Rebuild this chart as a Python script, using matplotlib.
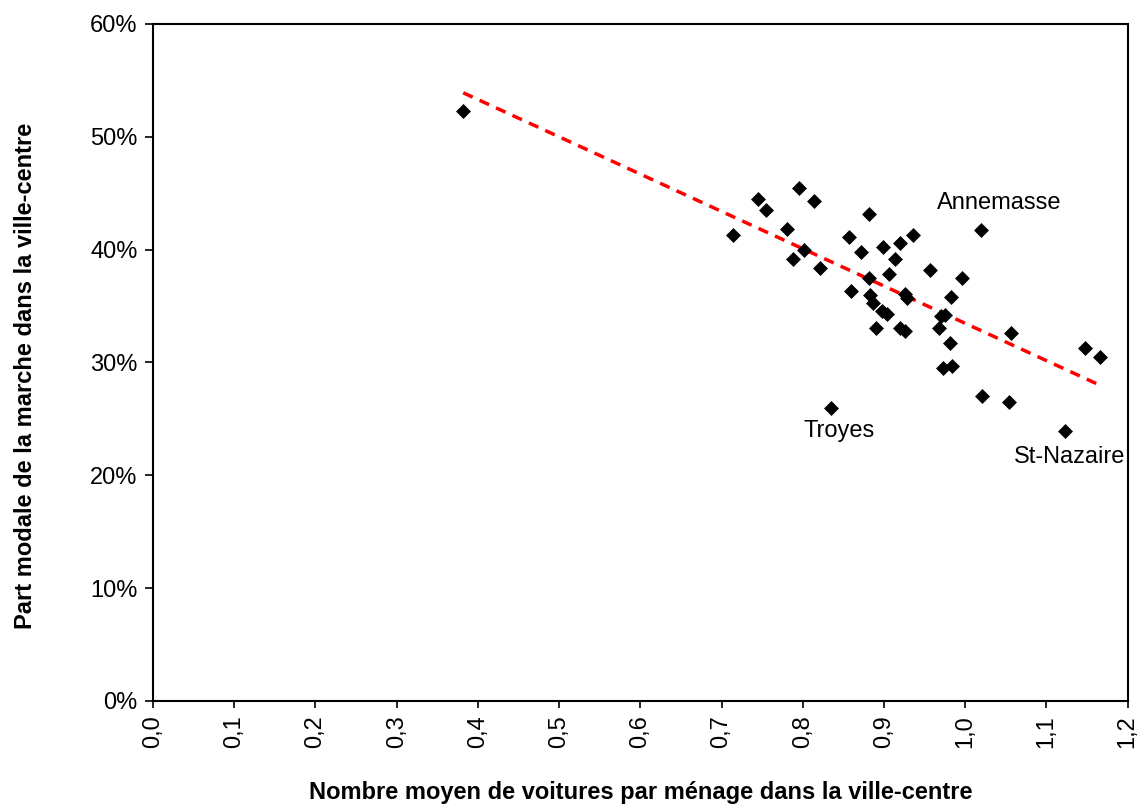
import numpy as np
import matplotlib
matplotlib.use("Agg")
import matplotlib.pyplot as plt
from matplotlib.ticker import FuncFormatter

plt.rcParams['font.family'] = ['Liberation Sans', 'DejaVu Sans']

# voitures par menage / part modale de la marche (%)
voitures = [0.382, 0.795, 0.745, 0.814, 0.755, 0.882, 0.714, 0.781, 0.857, 0.936,
            0.920, 0.899, 0.801, 0.872, 0.788, 0.913, 0.821, 0.957, 0.906, 0.882,
            0.996, 0.859, 0.926, 0.928, 0.883, 0.983, 0.886, 0.898, 0.904, 0.970,
            0.975, 0.968, 0.890, 0.920, 0.926, 0.981, 0.973, 0.984, 0.835, 1.019,
            1.057, 1.148, 1.166, 1.021, 1.054, 1.123]
marche = [52.3, 45.5, 44.5, 44.3, 43.5, 43.2, 41.3, 41.8, 41.1, 41.3,
          40.6, 40.2, 40.0, 39.8, 39.2, 39.2, 38.4, 38.2, 37.8, 37.5,
          37.5, 36.3, 36.1, 35.7, 36.0, 35.8, 35.3, 34.6, 34.3, 34.1,
          34.2, 33.1, 33.1, 33.1, 32.8, 31.7, 29.5, 29.7, 26.0, 41.7,
          32.6, 31.3, 30.5, 27.0, 26.5, 23.9]

villes = ["Annemasse", "Troyes", "St-Nazaire"]
villes_x = [1.019, 0.835, 1.123]
villes_y = [41.7, 26.0, 23.9]

x = np.array(voitures)
y = np.array(marche)

fig = plt.figure(figsize=(11.39, 8.05), dpi=100)
ax = fig.add_axes([0.1343, 0.1292, 0.8557, 0.8410])

ax.scatter(x, y, marker='D', s=58, color='black', zorder=3, linewidths=0)

# droite de tendance (moindres carres)
a, b = np.polyfit(x, y, 1)
xt = np.array([x.min(), x.max()])
ax.plot(xt, a * xt + b, color='red', linestyle=(0, (3, 2.2)), linewidth=2.5, zorder=2)

# etiquettes des villes, decalees par rapport au point
offsets = [(0.023, 2.4), (0.010, -2.1), (0.005, -2.3)]
for nom, vx, vy, (dx, dy) in zip(villes, villes_x, villes_y, offsets):
    ax.text(vx + dx, vy + dy, nom, fontsize=17, ha='center', va='center')

ax.set_xlim(0, 1.2)
ax.set_ylim(0, 60)
ax.set_xticks(np.arange(0, 1.21, 0.1))
ax.set_yticks(np.arange(0, 61, 10))
ax.xaxis.set_major_formatter(FuncFormatter(lambda v, p: f"{v:.1f}".replace('.', ',')))
ax.yaxis.set_major_formatter(FuncFormatter(lambda v, p: f"{v:.0f}%"))
ax.tick_params(axis='x', labelrotation=90, labelsize=17, direction='out', length=5, width=1.2, pad=5)
ax.tick_params(axis='y', labelsize=17, direction='out', length=6, width=1.2, pad=5)

for sp in ax.spines.values():
    sp.set_linewidth(1.5)
    sp.set_color('black')

ax.set_xlabel("Nombre moyen de voitures par ménage dans la ville-centre",
              fontsize=17, fontweight='bold', labelpad=24)
ax.set_ylabel("Part modale de la marche dans la ville-centre",
              fontsize=17, fontweight='bold')
ax.yaxis.set_label_coords(-0.119, 0.48)

fig.savefig("out.png", dpi=100)
